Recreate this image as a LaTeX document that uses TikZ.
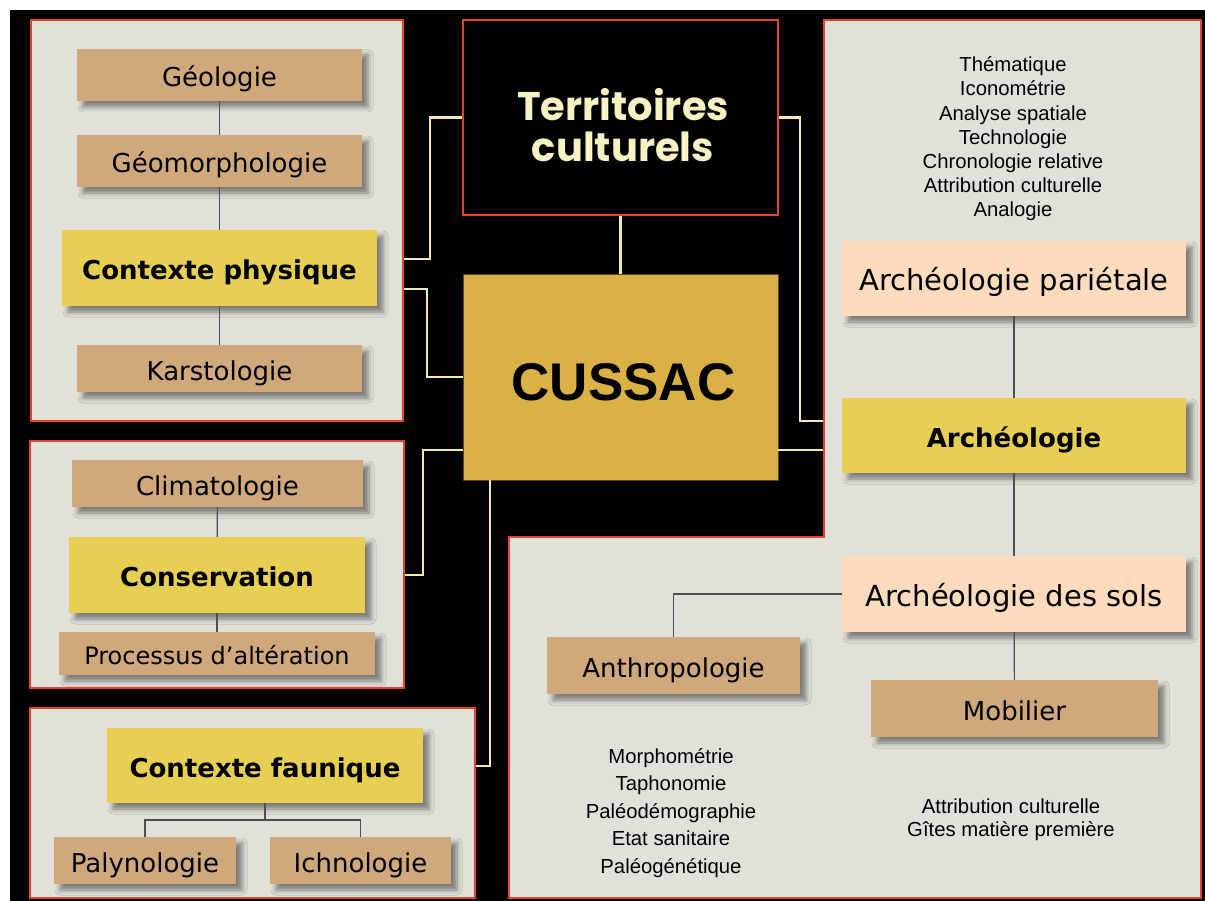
\documentclass[tikz,border=0pt]{standalone}
\usepackage{fontspec}
\usepackage{tikz}
\usetikzlibrary{positioning, calc, shadows, shadows.blur}
\newfontfamily\labelfont{DejaVu Sans}
\newfontfamily\listfont{Liberation Sans}
\newfontfamily\titlefont{Poppins}
\definecolor{panelgray}{HTML}{E2E1D9}
\definecolor{panelred}{HTML}{E8412C}
\definecolor{tancol}{HTML}{CFA97C}
\definecolor{yellowcol}{HTML}{E6CF52}
\definecolor{peachcol}{HTML}{FDDBBD}
\definecolor{cussacgold}{HTML}{D9B145}
\definecolor{creamlink}{HTML}{F1EAB2}
\definecolor{creamtext}{HTML}{F7F2C4}
\definecolor{treegray}{HTML}{4F4F4F}

\tikzset{
  sz/.style 2 args={minimum width=#1pt, minimum height=#2pt},
  panel/.style={draw=panelred, fill=panelgray, line width=1.2pt, inner sep=0pt},
  boxbase/.style={inner sep=0pt, align=center, text=black, text height=23pt, text depth=0pt,
    blur shadow={shadow xshift=6pt, shadow yshift=-6pt, shadow blur radius=5pt, shadow opacity=45}},
  tanbox/.style={boxbase, fill=tancol, font=\labelfont\fontsize{26}{30}\selectfont},
  yellowbox/.style={boxbase, fill=yellowcol, font=\labelfont\bfseries\fontsize{26}{30}\selectfont},
  peachbox/.style={boxbase, fill=peachcol, text height=24.2pt, font=\labelfont\fontsize{29}{32}\selectfont},
  listtext/.style={align=center, inner sep=0pt, font=\listfont\fontsize{20.3}{24.2}\selectfont},
  link/.style={draw=creamlink, line width=2.2pt},
  treeline/.style={draw=treegray, line width=1.2pt}
}

\begin{document}
\begin{tikzpicture}[x=1pt, y=-1pt]
\useasboundingbox (0,0) rectangle (1205,901);
\fill[white] (0,0) rectangle (1205,901);
\fill[black] (10,10) rectangle (1205,901);

\node[panel, sz={372}{401}] (physpanel) at (217,220.5) {};
\node[panel, sz={374}{247}] (conspanel) at (217,564.5) {};
\node[panel, sz={445}{190}] (faunpanel) at (252.5,803) {};
\node[panel, sz={377}{517}] (archpanel) at (1012.5,278.5) {};
\node[panel, sz={692}{361}] (solpanel) at (855,717.5) {};
\fill[panelgray] (825.2,530) rectangle (1200.2,544);

\node[draw=panelred, fill=black, line width=1.2pt, sz={315}{195}, inner sep=0pt] (terr) at (620.5,117.5) {};
\node[font=\titlefont\bfseries\fontsize{40}{41}\selectfont, text=creamtext, align=center, inner sep=0pt] (terrlabel) at ($(terr)+(2.5,8)$) {Territoires\\culturels};
\node[fill=cussacgold, draw=black!60!cussacgold, line width=0.6pt, sz={315}{206}, inner sep=0pt,
  text height=46pt, text depth=0pt,
  font=\listfont\bfseries\fontsize{53}{53}\selectfont, text=black] (cussac) at (620.5,377) {\hspace*{6pt}CUSSAC};

\node[tanbox, sz={285}{52}] (geol) at (219.5,75) {Géologie};
\node[tanbox, sz={285}{52}] (geom) at (219.5,161) {Géomorphologie};
\node[yellowbox, sz={315}{76}] (phys) at (219.5,268) {Contexte physique};
\node[tanbox, sz={285}{47}] (karst) at (219.5,368.5) {Karstologie};

\node[tanbox, sz={291}{47}] (clim) at (217.5,483.5) {Climatologie};
\node[yellowbox, sz={296}{76}] (cons) at (217,575) {Conservation};
\node[tanbox, sz={316}{43}, text height=21.5pt, font=\labelfont\fontsize{24}{28}\selectfont] (proc) at (217,653.5) {Processus d’altération};

\node[yellowbox, sz={316}{75}] (faun) at (265,765.5) {Contexte faunique};
\node[tanbox, sz={182}{47}] (paly) at (145,860.5) {Palynologie};
\node[tanbox, sz={181}{47}] (ichn) at (360.5,860.5) {Ichnologie};

\node[listtext] (archlist) at (1013,139) {Thématique\\Iconométrie\\Analyse spatiale\\Technologie\\Chronologie relative\\Attribution culturelle\\Analogie};
\node[peachbox, sz={344}{75}] (pariet) at (1014,278.5) {Archéologie pariétale};
\node[yellowbox, sz={344}{75}] (arch) at (1014,435.5) {Archéologie};
\node[peachbox, sz={344}{76}] (sols) at (1014,594) {Archéologie des sols};
\node[tanbox, sz={253}{57}] (anthro) at (673.5,665.5) {Anthropologie};
\node[tanbox, sz={287}{57}] (mob) at (1014.5,708.5) {Mobilier};
\node[listtext, font=\listfont\fontsize{20.3}{27.5}\selectfont] (anthrolist) at (671,813) {Morphométrie\\Taphonomie\\Paléodémographie\\Etat sanitaire\\Paléogénétique};
\node[listtext, font=\listfont\fontsize{20.3}{23}\selectfont] (moblist) at (1011,820) {Attribution culturelle\\Gîtes matière première};

\draw[treeline] (geol) -- (geom);
\draw[treeline] (geom) -- (phys);
\draw[treeline] (phys) -- (karst);
\draw[treeline] (clim) -- (cons);
\draw[treeline] (cons) -- (proc);
\coordinate (fork) at (265,820);
\draw[treeline] (faun.south) -- (fork);
\draw[treeline] (paly.north) |- (fork) -| (ichn.north);
\draw[treeline] (pariet) -- (arch);
\draw[treeline] (arch) -- (sols);
\draw[treeline] (sols) -- (mob);
\draw[treeline] (sols.west) -| (anthro.north);

\coordinate (j1) at (430,259);
\coordinate (j2) at (427,289);
\coordinate (j3) at (423,575);
\coordinate (j3b) at (423,450);
\coordinate (j4) at (490,766);
\coordinate (j5) at (800,421);
\coordinate (j6) at (800,450);
\draw[link] (j1 -| physpanel.east) -- (j1) |- (terr.west);
\draw[link] (j2 -| physpanel.east) -- (j2) |- (cussac.west);
\draw[link] (j3 -| conspanel.east) -- (j3) -- (j3b) -- (j3b -| cussac.west);
\draw[link] (j4 -| faunpanel.east) -- (j4) -- (j4 |- cussac.south);
\draw[link] (terr.south) -- (cussac.north);
\draw[link] (terr.east) -| (j5) -- (j5 -| archpanel.west);
\draw[link] (j6 -| cussac.east) -- (j6 -| archpanel.west);
\end{tikzpicture}
\end{document}
